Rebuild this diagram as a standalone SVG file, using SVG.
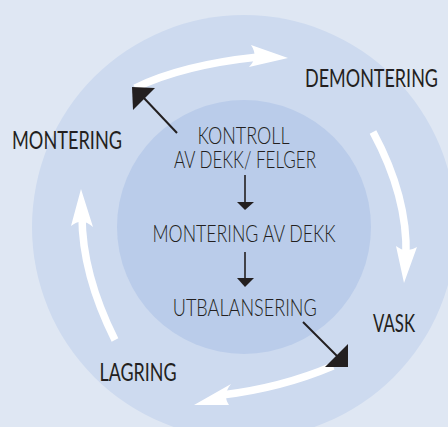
<svg xmlns="http://www.w3.org/2000/svg" width="448" height="427" viewBox="0 0 448 427">
<defs>
<style>
.lbl{font-family:Lato,"Open Sans","Liberation Sans",sans-serif;font-size:24px;fill:#231f20;text-anchor:middle}
.outer{font-weight:400;font-size:25px}
.inner{font-weight:300}
.wshaft{fill:none;stroke:#ffffff;stroke-width:7.5}
.whead{fill:#ffffff}
.bline{stroke:#231f20;stroke-width:2;fill:none}
.bhead{fill:#231f20}
</style>
</defs>
<rect x="0" y="0" width="448" height="427" fill="#dfe7f3"/>
<circle cx="244" cy="227" r="212" fill="#cddaef"/>
<circle cx="244" cy="227" r="127" fill="#baccea"/>

<g id="connectors">
  <path class="wshaft" d="M135,88 Q182,65 258,57"/>
  <path class="whead" d="M288,58 L251,45 Q259,57 249,67 Z"/>
  <path class="wshaft" d="M373,132 Q408,197 406,256"/>
  <path class="whead" d="M404,283 L396,246 Q406,254 417,247 Z"/>
  <path class="wshaft" d="M115,340 Q82,274 82,216"/>
  <path class="whead" d="M81,189 L71,226 Q82,217 93,227 Z"/>
  <path class="wshaft" d="M333,366 Q281,388 222,395"/>
  <path class="whead" d="M194,405 L231,384 Q222,395 229,405 Z"/>
  <line class="bline" x1="177" y1="133" x2="143" y2="97"/>
  <polygon class="bhead" points="132,87 155,88 133,110"/>
  <line class="bline" x1="303" y1="322" x2="338" y2="357"/>
  <polygon class="bhead" points="348,344 348,367 325,367"/>
  <line class="bline" x1="245" y1="175" x2="245" y2="203" style="stroke-width:1.6"/>
  <polygon class="bhead" points="237,202 254,202 245,210"/>
  <line class="bline" x1="245" y1="252" x2="245" y2="280" style="stroke-width:1.6"/>
  <polygon class="bhead" points="237,278 254,278 245,287"/>
</g>

<g id="demontering"><text class="lbl outer" x="371.5" y="87" textLength="133" lengthAdjust="spacingAndGlyphs">DEMONTERING</text></g>
<g id="montering"><text class="lbl outer" x="67" y="149" textLength="110" lengthAdjust="spacingAndGlyphs">MONTERING</text></g>
<g id="vask"><text class="lbl outer" x="394" y="332" textLength="42" lengthAdjust="spacingAndGlyphs">VASK</text></g>
<g id="lagring"><text class="lbl outer" x="138" y="381" textLength="77" lengthAdjust="spacingAndGlyphs">LAGRING</text></g>
<g id="kontroll">
  <text class="lbl inner" x="243.5" y="144" textLength="92" lengthAdjust="spacingAndGlyphs">KONTROLL</text>
  <text class="lbl inner" x="245" y="168" textLength="142" lengthAdjust="spacingAndGlyphs">AV DEKK/ FELGER</text>
</g>
<g id="montering-av-dekk"><text class="lbl inner" x="244" y="242" textLength="183" lengthAdjust="spacingAndGlyphs">MONTERING AV DEKK</text></g>
<g id="utbalansering"><text class="lbl inner" x="244.75" y="316" textLength="144" lengthAdjust="spacingAndGlyphs">UTBALANSERING</text></g>
</svg>
